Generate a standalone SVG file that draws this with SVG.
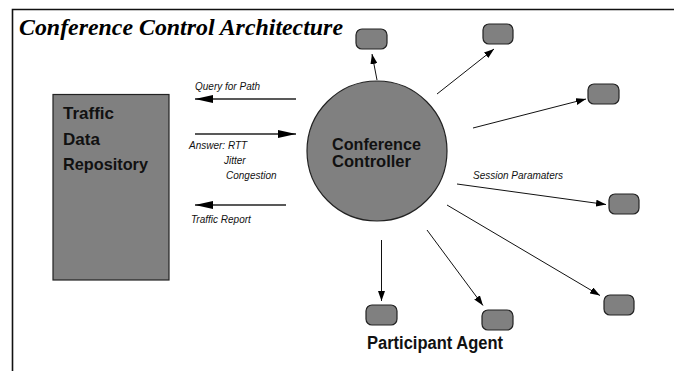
<svg xmlns="http://www.w3.org/2000/svg" width="674" height="371" viewBox="0 0 674 371">
<style>
.frame{fill:none;stroke:#111;stroke-width:1.6}
.node{fill:#808080;stroke:#222;stroke-width:1.2}
.agent{fill:#808080;stroke:#222;stroke-width:1.2}
.conn{stroke:#111;stroke-width:1;fill:none}
.big{stroke:#222;stroke-width:1.3;fill:none}
.lbl{font-family:"Liberation Sans",Arial,sans-serif;font-weight:bold;fill:#111}
.sm{font-family:"Liberation Sans",Arial,sans-serif;font-style:italic;font-size:10px;fill:#111}
.title{font-family:"Liberation Serif","Times New Roman",serif;font-style:italic;font-weight:bold;font-size:24px;fill:#000}
</style>
<defs>
<marker id="ah" markerUnits="userSpaceOnUse" markerWidth="10" markerHeight="7" refX="10" refY="3.5" orient="auto">
<path d="M0,0 L10,3.5 L0,7 z" fill="#000"/>
</marker>
<marker id="bh" markerUnits="userSpaceOnUse" markerWidth="18" markerHeight="8" refX="18" refY="4" orient="auto">
<path d="M0,0 L18,4 L0,8 z" fill="#000"/>
</marker>
</defs>
<rect width="674" height="371" fill="#fff"/>
<path class="frame" d="M12.5,371 L12.5,9.5 L674,9.5"/>
<text class="title" x="19" y="35" textLength="324" lengthAdjust="spacingAndGlyphs">Conference Control Architecture</text>

<g id="repository">
<rect class="node" x="53" y="94.5" width="116" height="185.5"/>
<text class="lbl" font-size="17" x="63" y="119">Traffic</text>
<text class="lbl" font-size="17" x="63" y="145">Data</text>
<text class="lbl" font-size="17" x="63" y="170" textLength="85" lengthAdjust="spacingAndGlyphs">Repository</text>
</g>

<g id="controller">
<circle class="node" cx="377" cy="151" r="70"/>
<text class="lbl" font-size="16" x="332" y="150" textLength="89" lengthAdjust="spacingAndGlyphs">Conference</text>
<text class="lbl" font-size="16" x="332" y="167" textLength="79" lengthAdjust="spacingAndGlyphs">Controller</text>
</g>

<g id="agent1"><rect class="agent" x="356" y="29" width="31" height="20" rx="6"/></g>
<g id="agent2"><rect class="agent" x="483" y="24" width="30" height="20" rx="6"/></g>
<g id="agent3"><rect class="agent" x="588" y="84" width="31" height="20" rx="6"/></g>
<g id="agent4"><rect class="agent" x="609" y="194" width="30" height="20" rx="6"/></g>
<g id="agent5"><rect class="agent" x="604" y="295" width="30" height="20" rx="6"/></g>
<g id="agent6"><rect class="agent" x="482" y="310" width="31" height="20" rx="6"/></g>
<g id="agent7"><rect class="agent" x="366" y="305" width="31" height="20" rx="6"/></g>

<g id="connectors">
<line class="big" x1="296" y1="99" x2="195" y2="99" marker-end="url(#bh)"/>
<line class="big" x1="195" y1="134" x2="296" y2="134" marker-end="url(#bh)"/>
<line class="big" x1="286" y1="205" x2="195" y2="205" marker-end="url(#bh)"/>
<line class="conn" x1="377" y1="80" x2="372" y2="54" marker-end="url(#ah)"/>
<line class="conn" x1="437" y1="94" x2="494" y2="49" marker-end="url(#ah)"/>
<line class="conn" x1="473" y1="128" x2="586" y2="99" marker-end="url(#ah)"/>
<line class="conn" x1="457" y1="184" x2="606" y2="204.5" marker-end="url(#ah)"/>
<line class="conn" x1="447" y1="205" x2="600" y2="295.5" marker-end="url(#ah)"/>
<line class="conn" x1="427" y1="230" x2="483" y2="305.5" marker-end="url(#ah)"/>
<line class="conn" x1="381.5" y1="240" x2="381.5" y2="301" marker-end="url(#ah)"/>
</g>

<g id="labels">
<text class="sm" x="195" y="90" font-size="10.5">Query for Path</text>
<text class="sm" x="189" y="149">Answer: RTT</text>
<text class="sm" x="224" y="164">Jitter</text>
<text class="sm" x="226" y="179">Congestion</text>
<text class="sm" x="191" y="223">Traffic Report</text>
<text class="sm" x="473" y="179">Session Paramaters</text>
<text class="lbl" font-size="18" x="367" y="349" textLength="136" lengthAdjust="spacingAndGlyphs">Participant Agent</text>
</g>
</svg>
